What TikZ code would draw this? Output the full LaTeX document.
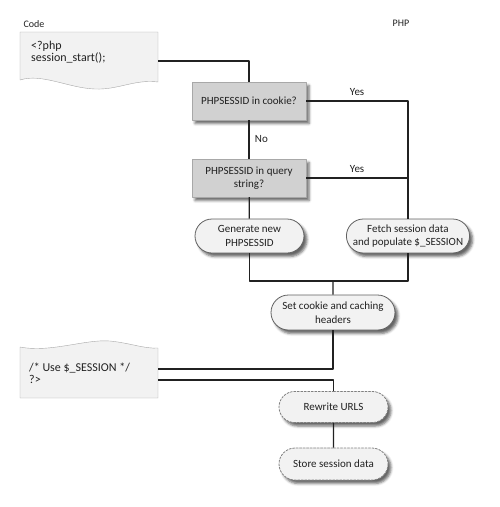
\documentclass[tikz,border=0pt]{standalone}
\usepackage{fontspec}
\setmainfont{Carlito}
\usetikzlibrary{shapes.misc}
\usetikzlibrary{shadows.blur}
\definecolor{dddddd}{rgb}{0.82,0.82,0.82}
\definecolor{ffffff}{rgb}{0.95,0.95,0.95}
\definecolor{aaaaaa}{rgb}{0.66,0.66,0.66}
\definecolor{uuuuuu}{rgb}{0.13,0.13,0.13}
\definecolor{mmmmmm}{rgb}{0.38,0.38,0.38}
\definecolor{nnnnnn}{rgb}{0.5,0.5,0.5}
\begin{document}
\begin{tikzpicture}[line cap=round,line join=round,x=1pt,y=-1pt,
  every node/.style={text=uuuuuu,font=\fontsize{11}{13.5}\selectfont},
  shade/.style={blur shadow={shadow xshift=3pt,shadow yshift=-3.5pt,shadow blur radius=2.5pt,shadow opacity=60}},
  test/.style={draw=aaaaaa,fill=dddddd,shade,minimum width=114pt,minimum height=38pt,align=center,inner sep=2pt},
  task/.style={rounded rectangle,draw=mmmmmm,line width=0.8pt,fill=ffffff,shade,minimum height=34pt,align=center,inner sep=2pt},
  later/.style={task,draw=nnnnnn,dash pattern=on 2pt off 1.5pt,minimum height=31pt,minimum width=113pt},
  code/.style={anchor=west,align=left,font=\fontsize{12}{12}\selectfont,inner sep=0pt},
  wire/.style={draw=uuuuuu,line width=1.3pt,line cap=butt}]
\useasboundingbox (0,0) rectangle (500,507);
\node[anchor=west,font=\fontsize{10}{12}\selectfont] (codelabel) at (20,24) {Code};
\node[font=\fontsize{10}{12}\selectfont] (phplabel) at (401,23) {PHP};
% code boxes
\draw[fill=ffffff,draw=aaaaaa,thin] (20,32) -- (158,32) -- (158,82) .. controls (135,79) and (118,90) .. (95,89) .. controls (68,88) and (42,73) .. (20,80) -- cycle;
\node[code] (starttext) at (31,52) {<?php\\session\_start();};
\coordinate (start) at (158,61);
\draw[fill=ffffff,draw=aaaaaa,thin] (20,347) .. controls (50,353) and (85,339) .. (110,341) .. controls (130,343) and (145,349) .. (158,348) -- (158,398) -- (20,398) -- cycle;
\node[code] (usetext) at (29,373) {/* Use \$\_SESSION */\\?>};
\coordinate (use) at (158,369);
\coordinate (useout) at (158,380);
% php side
\node[test] (cookie) at (249,101) {PHPSESSID in cookie?};
\node[test] (query) at (249,178) {PHPSESSID in query\\string?};
\node[task,minimum width=113pt] (gen) at (249.5,236) {Generate new\\PHPSESSID};
\node[task,minimum width=122pt] (fetch) at (408,236) {Fetch session data\\and populate \$\_SESSION};
\coordinate (merge) at (333,281);
\node[task,minimum width=128pt,minimum height=35pt] (headers) at (333,312.5) {Set cookie and caching\\headers};
\node[later] (rewrite) at (333.5,407) {Rewrite URLS};
\node[later,minimum height=32pt] (store) at (333.5,464) {Store session data};
% connectors
\draw[wire] (start) -| (cookie.north);
\draw[wire] (cookie) -- node[right=2pt] {No} (query);
\draw[wire] (cookie.east) -| node[pos=0.25,above=1pt] {Yes} (fetch.north);
\draw[wire] (query.east) -| node[pos=0.25,above=1pt] {Yes} (fetch.north);
\draw[wire] (query) -- (gen);
\draw[wire] (gen.south) |- (merge) -| (fetch.south);
\draw[wire] (merge) -- (headers);
\draw[wire] (headers.south) |- (use);
\draw[wire] (useout) -| (rewrite.north);
\draw[wire] (rewrite) -- (store);
\end{tikzpicture}
\end{document}
